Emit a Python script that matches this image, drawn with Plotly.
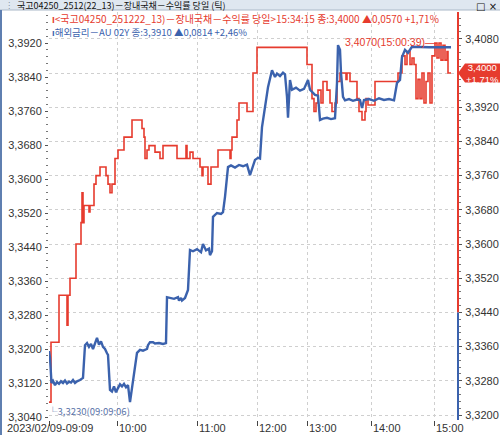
import plotly.graph_objects as go

# ---------------- data (x = tick index along the intraday tick axis) ----------------
red_x = [0, 2, 10, 18, 19, 21, 27, 32, 33, 34, 35, 40, 41, 45, 47, 51, 57, 59, 61, 63, 66, 69, 75, 83,
         93, 95, 96, 98, 100, 106, 111, 114, 128, 137, 138, 141, 144, 151, 153, 154, 159, 162, 169,
         181, 182, 183, 188, 190, 198, 204, 208, 258, 263, 265, 267, 269, 272, 274, 278, 281, 283,
         286, 288, 291, 297, 298, 301, 308, 310, 313, 316, 317, 319, 326, 349, 353, 356, 358, 361,
         363, 365, 367, 369, 371, 373, 375, 377, 379, 381, 383, 386, 388, 390, 392, 394, 396, 398,
         399, 402]
red_y = [3.3230, 3.3370, 3.3480, 3.3410, 3.3480, 3.3520, 3.3600, 3.3650, 3.3720, 3.3650, 3.3690,
         3.3675, 3.3690, 3.3740, 3.3760, 3.3780, 3.3760, 3.3740, 3.3720, 3.3740, 3.3800, 3.3820,
         3.3850, 3.3890, 3.3870, 3.3850, 3.3800, 3.3820, 3.3830, 3.3815, 3.3800, 3.3830, 3.3800,
         3.3830, 3.3800, 3.3815, 3.3800, 3.3780, 3.3760, 3.3780, 3.3740, 3.3780, 3.3820, 3.3800,
         3.3820, 3.3850, 3.3890, 3.3930, 3.3910, 3.4000, 3.4060, 3.4020, 3.3940, 3.3910, 3.3930,
         3.3960, 3.3930, 3.3980, 3.3960, 3.3930, 3.3910, 3.3930, 3.3980, 3.4000, 3.3985, 3.4000,
         3.3980, 3.3940, 3.3910, 3.3890, 3.3910, 3.3940, 3.3925, 3.3980, 3.4000, 3.4040, 3.4020,
         3.4050, 3.4020, 3.4035, 3.4020, 3.3940, 3.3985, 3.3940, 3.4000, 3.3930, 3.3980, 3.4000,
         3.3930, 3.4040, 3.4070, 3.4035, 3.4070, 3.4030, 3.4065, 3.4030, 3.4050, 3.4000, 3.4000]

blue_x = [0, 1, 2.5, 4, 6, 8, 10, 12, 14, 16, 18, 20, 22, 24, 26, 28, 31, 34, 36, 38, 40, 42, 44, 46,
          48, 50, 52, 54, 56, 58, 59, 61, 63, 65, 67, 69, 71, 73, 75, 77, 79, 81, 84, 88, 91, 94, 98,
          99, 101, 104, 106, 110, 114, 117, 118, 121, 125, 129, 130, 132, 133, 136, 139, 141, 144,
          148, 152, 154, 157, 160, 161, 163, 164, 168, 172, 174, 176, 179, 182, 186, 190, 194, 198,
          201, 203, 206, 209, 211, 213, 215, 217, 219, 223, 226, 228, 231, 234, 236, 238, 239, 241,
          243, 247, 251, 255, 259, 261, 266, 269, 271, 274, 278, 282, 286, 288, 289, 291, 292, 294,
          296, 300, 304, 308, 311, 313, 315, 320, 325, 330, 335, 340, 345, 348, 351, 353, 356, 359,
          363, 380, 402]
blue_y = [3.3195, 3.3180, 3.3120, 3.3125, 3.3115, 3.3122, 3.3118, 3.3124, 3.3120, 3.3126, 3.3119,
          3.3123, 3.3121, 3.3127, 3.3120, 3.3124, 3.3127, 3.3132, 3.3209, 3.3214, 3.3205, 3.3212,
          3.3200, 3.3215, 3.3226, 3.3210, 3.3218, 3.3205, 3.3200, 3.3190, 3.3186, 3.3104, 3.3100,
          3.3112, 3.3098, 3.3108, 3.3117, 3.3112, 3.3118, 3.3110, 3.3115, 3.3075, 3.3127, 3.3191,
          3.3198, 3.3196, 3.3200, 3.3209, 3.3216, 3.3216, 3.3213, 3.3214, 3.3212, 3.3214, 3.3322,
          3.3320, 3.3318, 3.3322, 3.3314, 3.3320, 3.3314, 3.3320, 3.3339, 3.3433, 3.3430, 3.3435,
          3.3428, 3.3447, 3.3432, 3.3436, 3.3421, 3.3430, 3.3511, 3.3520, 3.3518, 3.3522, 3.3558,
          3.3628, 3.3632, 3.3627, 3.3633, 3.3630, 3.3634, 3.3609, 3.3625, 3.3645, 3.3650, 3.3648,
          3.3722, 3.3755, 3.3793, 3.3816, 3.3856, 3.3840, 3.3848, 3.3842, 3.3850, 3.3846, 3.3793,
          3.3744, 3.3833, 3.3810, 3.3815, 3.3808, 3.3812, 3.3833, 3.3810, 3.3798, 3.3796, 3.3739,
          3.3742, 3.3744, 3.3741, 3.3743, 3.3826, 3.3915, 3.3904, 3.3850, 3.3793, 3.3785, 3.3788,
          3.3784, 3.3787, 3.3786, 3.3767, 3.3786, 3.3788, 3.3784, 3.3790, 3.3786, 3.3788, 3.3785,
          3.3826, 3.3833, 3.3887, 3.3904, 3.3897, 3.3911, 3.3910, 3.3910]

x_tick_pos = [0, 68, 148, 208, 258, 322, 385]
x_tick_text = ["2023/02/09-09:09", "10:00", "11:00", "12:00", "13:00", "14:00", "15:00"]

# right (red) axis ticks; the 3,4000 label is covered by the last-price badge
red_ticks = [3.3200, 3.3280, 3.3360, 3.3440, 3.3520, 3.3600, 3.3680, 3.3760, 3.3840, 3.3920, 3.4000, 3.4080]
red_tick_text = ["3,3200", "3,3280", "3,3360", "3,3440", "3,3520", "3,3600", "3,3680", "3,3760",
                 "3,3840", "3,3920", "", "3,4080"]

red_name = "<국고04250_251222_13)－장내국채－수익률 당일>15:34:15 종:3,4000 ▲0,0570 +1,71%"
blue_name = "해외금리－AU 02Y 종:3,3910 ▲0,0814 +2,46%"
title_text = "국고04250_2512(22_13)－장내국채－수익률 당일 (틱)"
red_last, red_last_text = 3.4000, "3,4000<br>+1,71%"
red_max, red_max_text = 3.4070, "3,4070(15:00:39)—"
red_min, red_min_text = 3.3230, "└3,3230(09:09:06)"

# ---------------- layout helpers (pixel -> paper) ----------------
W, H = 500, 435
L, R, T, B = 49, 42, 12, 15
PW, PH = W - L - R, H - T - B
def px(x):
    return (x - L) / PW
def py(y):
    return (H - B - y) / PH

RED = "#e63b2e"
BLUE = "#3b62ad"
TXT = "#333333"
NUMFONT = "Liberation Sans Narrow, Liberation Sans, Arial, sans-serif"
KFONT = "Liberation Sans Narrow, Noto Sans CJK KR, sans-serif"

fig = go.Figure()
fig.add_trace(go.Scatter(x=red_x, y=red_y, mode="lines", line=dict(color=RED, width=1.6, shape="hv"),
                         yaxis="y", hoverinfo="skip", showlegend=False))
fig.add_trace(go.Scatter(x=blue_x, y=blue_y, mode="lines", line=dict(color=BLUE, width=2.4),
                         yaxis="y2", hoverinfo="skip", showlegend=False))

red_lo = 3.3200 - 5 * 0.008 / 34.2
red_hi = 3.3200 + 403 * 0.008 / 34.2
blue_lo = 3.3040 - 3 * 0.008 / 34.0
blue_hi = 3.3040 + 405 * 0.008 / 34.0

grid = dict(showgrid=True, gridcolor="#cfcfcf", griddash="dot", gridwidth=1)

fig.update_layout(
    width=W, height=H, margin=dict(l=L, r=R, t=T, b=B, autoexpand=False),
    paper_bgcolor="white", plot_bgcolor="white", separators=", ",
    showlegend=False,
    xaxis=dict(range=[0, 409], tickvals=x_tick_pos, ticktext=[""] * len(x_tick_pos),
               ticks="outside", ticklen=5, tickcolor="#444", showline=False, zeroline=False,
               fixedrange=True, automargin=False, **grid),
    yaxis=dict(side="right", range=[red_lo, red_hi], tickmode="array", tickvals=red_ticks,
               ticktext=red_tick_text,
               ticks="outside", ticklen=3, tickcolor="#555", showline=False, zeroline=False,
               tickfont=dict(family=NUMFONT, size=11, color=TXT), ticklabelstandoff=1,
               automargin=False,
               minor=dict(dtick=0.0016, tick0=3.3200, ticks="outside", ticklen=2, tickcolor="#777"),
               **grid),
    yaxis2=dict(side="left", overlaying="y", range=[blue_lo, blue_hi], tick0=3.3040, dtick=0.008,
                tickformat=".4f", ticks="outside", ticklen=3, tickcolor="#555", showline=False,
                zeroline=False, showgrid=False, tickfont=dict(family=NUMFONT, size=11, color=TXT),
                ticklabelstandoff=1, automargin=False,
                minor=dict(dtick=0.0016, ticks="outside", ticklen=2, tickcolor="#777")),
)

shapes = []
# title bar
shapes.append(dict(type="rect", xref="paper", yref="paper", x0=px(0), x1=px(W), y0=py(10), y1=py(-2),
                   fillcolor="#dfe7f0", line=dict(width=0), layer="below"))
shapes.append(dict(type="line", xref="paper", yref="paper", x0=px(0), x1=px(W), y0=py(10), y1=py(10),
                   line=dict(color="#aab8c8", width=1)))
# left window border
shapes.append(dict(type="rect", xref="paper", yref="paper", x0=px(0), x1=px(2), y0=py(H), y1=py(10),
                   fillcolor="#5f7fb0", line=dict(width=0)))
# right axis line, red above 3.3440 and blue below
shapes.append(dict(type="line", xref="paper", yref="y", x0=1, x1=1, y0=3.3440, y1=red_hi + 0.0003,
                   line=dict(color=RED, width=2)))
shapes.append(dict(type="line", xref="paper", yref="y", x0=1, x1=1, y0=red_lo, y1=3.3440,
                   line=dict(color=BLUE, width=2)))
# price badge arrow shape
hb = 0.0022
shapes.append(dict(type="path", xref="paper", yref="y",
                   path=f"M {px(458)},{red_last} L {px(465)},{red_last+hb} L {px(501)},{red_last+hb} "
                        f"L {px(501)},{red_last-hb} L {px(465)},{red_last-hb} Z",
                   fillcolor=RED, line=dict(width=0)))
fig.update_layout(shapes=shapes)

ann = []
ann.append(dict(xref="paper", yref="paper", x=px(16), y=py(5.9), xanchor="left", yanchor="middle",
                text=title_text, showarrow=False, borderpad=0,
                font=dict(family=KFONT, size=9, color="#111")))
ann.append(dict(xref="paper", yref="paper", x=px(3), y=py(5.5), xanchor="left", yanchor="middle",
                text="⋮", showarrow=False, font=dict(family="DejaVu Sans", size=8, color="#8090a0")))
ann.append(dict(xref="paper", yref="paper", x=px(499), y=py(6), xanchor="right", yanchor="middle",
                text="□ ×", showarrow=False, font=dict(family="DejaVu Sans", size=10, color="#111")))
# legend lines
ann.append(dict(xref="paper", yref="paper", x=px(51), y=py(18.5), xanchor="left", yanchor="middle",
                text="<b>ı</b>" + red_name.replace("<", "&lt;").replace(">", "&gt;"), showarrow=False,
                borderpad=0, font=dict(family=KFONT, size=10, color=RED)))
ann.append(dict(xref="paper", yref="paper", x=px(51), y=py(32), xanchor="left", yanchor="middle",
                text="<b>ı</b>" + blue_name, showarrow=False, borderpad=0,
                font=dict(family=KFONT, size=9.5, color=BLUE)))
# price badge text
ann.append(dict(xref="paper", yref="y", x=px(482), y=red_last, xanchor="center", yanchor="middle",
                text=red_last_text, showarrow=False, borderpad=0, align="center",
                font=dict(family=NUMFONT, size=9.5, color="white")))
# max / min labels
ann.append(dict(xref="x", yref="y", x=389, y=red_max, xanchor="right", yanchor="middle",
                text=red_max_text, showarrow=False, yshift=1,
                font=dict(family=NUMFONT, size=10.5, color=RED)))
ann.append(dict(xref="x", yref="y", x=0, y=red_min, xanchor="left", yanchor="top",
                text=red_min_text, showarrow=False, yshift=0, xshift=-3,
                font=dict(family=KFONT, size=9.5, color="#5a73a8")))
# x tick labels (left aligned at tick)
for i, (p, t) in enumerate(zip(x_tick_pos, x_tick_text)):
    ann.append(dict(xref="x", yref="paper", x=p, y=py(428), xanchor="left", yanchor="middle",
                    xshift=(-44 if i == 0 else 0), text=t, showarrow=False,
                    font=dict(family=NUMFONT, size=11, color=TXT)))
fig.update_layout(annotations=ann)

fig.write_html("out.html")
